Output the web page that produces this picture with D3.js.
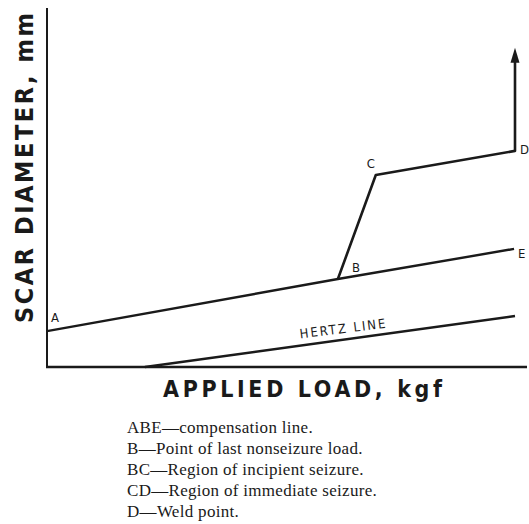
<!DOCTYPE html>
<html>
<head>
<meta charset="utf-8">
<script src="https://cdn.jsdelivr.net/npm/d3@7"></script>
<style>
  body { margin: 0; background: #fff; }
  svg { display: block; }
</style>
</head>
<body>
<div id="main"></div>
<script>
// compensation line A-B-E
var compLoad = [0, 60.6, 97.3],
	compDia = [10, 24.5, 32.9];

// seizure path B-C-D and the weld arrow
var seizeLoad = [60.6, 68.5, 97.5, 97.5],
	seizeDia = [24.5, 53.5, 60.2, 86];

// tip of the weld arrow
var arrowLoad = 97.5,
	arrowDia = 88.9;

// hertz line
var hertzLoad = [20.4, 97.5],
	hertzDia = [0, 14.2];

var pointNames = ["A", "B", "C", "D", "E"],
	pointLoad = [0, 60.6, 68.5, 97.5, 97.3],
	pointDia = [10, 24.5, 53.5, 60.2, 32.9];

var notes = [
	"ABE\u2014compensation line.",
	"B\u2014Point of last nonseizure load.",
	"BC\u2014Region of incipient seizure.",
	"CD\u2014Region of immediate seizure.",
	"D\u2014Weld point."
];

var w = 529,
	h = 524;

var x = d3.scaleLinear().domain([0, 100]).range([47, 527]);
var y = d3.scaleLinear().domain([0, 100]).range([367, 8]);

var svg = d3.select("#main")
	.append("svg")
	.attr("width", w)
	.attr("height", h);

// axes (no ticks)
svg.append("line")
	.attr("x1", x(0)).attr("x2", x(0))
	.attr("y1", y(0)).attr("y2", y(100))
	.attr("stroke", "#1a1a1a").attr("stroke-width", 2);
svg.append("line")
	.attr("x1", x(0) - 1).attr("x2", x(100))
	.attr("y1", y(0)).attr("y2", y(0))
	.attr("stroke", "#1a1a1a").attr("stroke-width", 2.6);

var line = d3.line()
	.x(function(d) { return x(d[0]); })
	.y(function(d) { return y(d[1]); });

svg.append("path")
	.attr("d", line(d3.zip(compLoad, compDia)))
	.attr("fill", "none").attr("stroke", "#1a1a1a").attr("stroke-width", 2.4);

svg.append("path")
	.attr("d", line(d3.zip(seizeLoad, seizeDia)))
	.attr("fill", "none").attr("stroke", "#1a1a1a").attr("stroke-width", 2.6)
	.attr("stroke-linejoin", "round");

// arrow head
var tx = x(arrowLoad), ty = y(arrowDia);
svg.append("path")
	.attr("d", "M" + tx + "," + ty + " L" + (tx + 4.5) + "," + (ty + 15) +
		" L" + (tx - 4.5) + "," + (ty + 15) + " Z")
	.attr("fill", "#1a1a1a");

svg.append("path")
	.attr("d", line(d3.zip(hertzLoad, hertzDia)))
	.attr("fill", "none").attr("stroke", "#1a1a1a").attr("stroke-width", 2.4);

// point letters
var offs = [[4, -9], [14, -7], [-9, -7], [5, 3], [4, 9]];
svg.selectAll(".pt")
	.data(pointNames)
	.enter()
	.append("text")
	.attr("class", "pt")
	.attr("x", function(d, i) { return x(pointLoad[i]) + offs[i][0]; })
	.attr("y", function(d, i) { return y(pointDia[i]) + offs[i][1]; })
	.attr("font-family", "DejaVu Sans Condensed")
	.attr("font-size", 13)
	.attr("fill", "#1a1a1a")
	.text(function(d) { return d; });

// hertz label along the line
svg.append("text")
	.attr("transform", "translate(344,333) rotate(-7)")
	.attr("text-anchor", "middle")
	.attr("font-family", "DejaVu Sans Condensed")
	.attr("font-size", 13)
	.attr("letter-spacing", 2)
	.attr("fill", "#1a1a1a")
	.text("HERTZ LINE");

// axis titles
svg.append("text")
	.attr("transform", "translate(33,323) rotate(-90)")
	.attr("font-family", "DejaVu Sans Condensed")
	.attr("font-weight", "bold")
	.attr("font-size", 25)
	.attr("textLength", 310)
	.attr("lengthAdjust", "spacing")
	.attr("fill", "#1a1a1a")
	.text("SCAR DIAMETER, mm");

svg.append("text")
	.attr("x", 163)
	.attr("y", 397)
	.attr("font-family", "DejaVu Sans Condensed")
	.attr("font-weight", "bold")
	.attr("font-size", 23)
	.attr("textLength", 279)
	.attr("lengthAdjust", "spacing")
	.attr("fill", "#1a1a1a")
	.text("APPLIED  LOAD, kgf");

// notes below
svg.selectAll(".note")
	.data(notes)
	.enter()
	.append("text")
	.attr("class", "note")
	.attr("x", 127)
	.attr("y", function(d, i) { return 433 + i * 21; })
	.attr("font-family", "Liberation Serif")
	.attr("font-size", 17)
	.attr("letter-spacing", 0.3)
	.attr("fill", "#1a1a1a")
	.text(function(d) { return d; });
</script>
</body>
</html>
